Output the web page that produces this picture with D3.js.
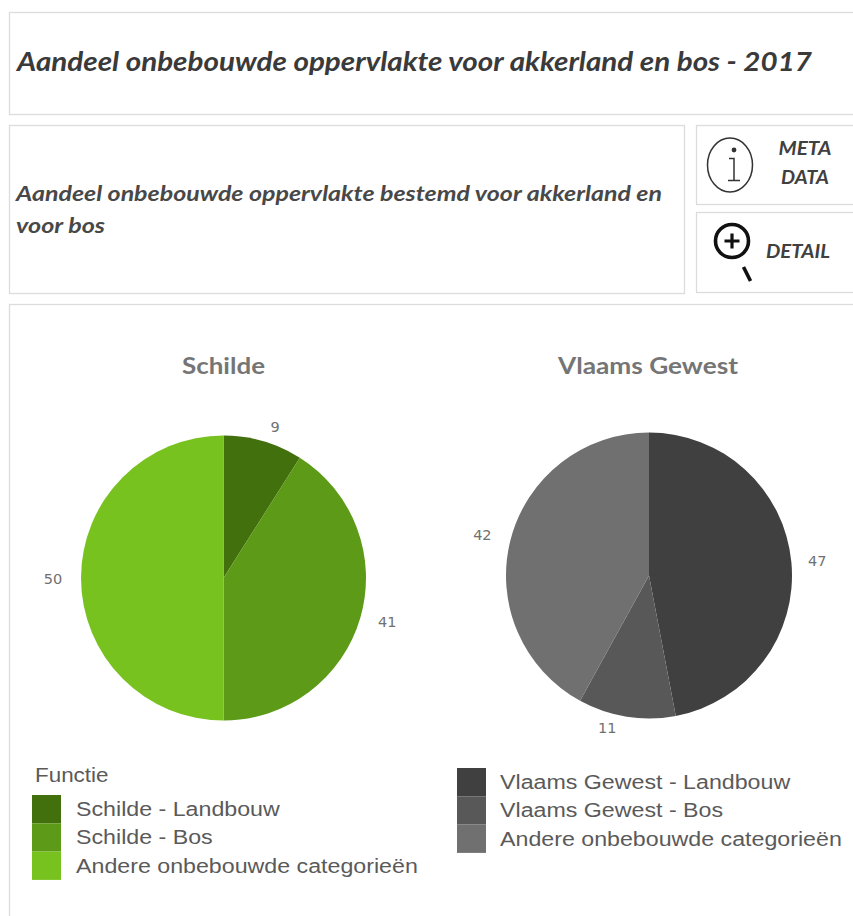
<!DOCTYPE html>
<html><head><meta charset="utf-8">
<script src="https://cdn.jsdelivr.net/npm/d3@7"></script>
<style>html,body{margin:0;padding:0;background:#fff;overflow:hidden}svg{display:block}</style>
</head><body><svg id="c" width="853" height="916"></svg>
<script>
const pageTitle = "Aandeel onbebouwde oppervlakte voor akkerland en bos - 2017";
const subtitleLines = ["Aandeel onbebouwde oppervlakte bestemd voor akkerland en", "voor bos"];
const pieNames = ["Schilde", "Vlaams Gewest"];
const schildeCategories = ["Schilde - Landbouw", "Schilde - Bos", "Andere onbebouwde categorieën"];
const schildeValues = [9, 41, 50];
const schildeColors = ["#41700c", "#5c9a17", "#78c21f"];
const vlaamsCategories = ["Vlaams Gewest - Landbouw", "Vlaams Gewest - Bos", "Andere onbebouwde categorieën"];
const vlaamsValues = [47, 11, 42];
const vlaamsColors = ["#404040", "#585858", "#707070"];
const legendTitle = "Functie";

const svg = d3.select("#c");
const frame = "#dcdcdc";
function box(x,y,w,h){svg.append("rect").attr("x",x+.5).attr("y",y+.5).attr("width",w).attr("height",h).attr("fill","#fff").attr("stroke",frame).attr("stroke-width",1.3);}
box(9,12,860,102); box(9,125,675,168); box(696,125,170,79); box(696,212,170,80); box(9,304,860,640);

const sans = "Lato,'Open Sans',sans-serif";
const arial = "'Liberation Sans',Arial,sans-serif";
const dejavu = "'DejaVu Sans',sans-serif";
function text(x,y,s,size,opt={}){
  const t = svg.append("text").attr("x",x).attr("y",y).text(s).attr("font-size",size)
    .attr("font-family",opt.font||sans).attr("fill",opt.fill||"#404040")
    .attr("font-style",opt.italic?"italic":"normal").attr("font-weight",opt.bold?700:400)
    .attr("text-anchor",opt.anchor||"start");
  if(opt.len) t.attr("textLength",opt.len).attr("lengthAdjust","spacingAndGlyphs");
  if(opt.stretch) t.attr("textLength",t.node().getComputedTextLength()*opt.stretch).attr("lengthAdjust","spacingAndGlyphs");
  return t;
}
text(17,71,pageTitle,26,{italic:true,bold:true,fill:"#3a3a3a",len:795});
text(16,201,subtitleLines[0],20,{italic:true,bold:true,fill:"#484848",len:646});
text(16,233,subtitleLines[1],20,{italic:true,bold:true,fill:"#484848",len:89});

// info icon
svg.append("ellipse").attr("cx",730).attr("cy",165).attr("rx",22.5).attr("ry",27).attr("fill","none").attr("stroke","#333").attr("stroke-width",1.5);
svg.append("circle").attr("cx",734).attr("cy",150).attr("r",2.4).attr("fill","#333");
svg.append("path").attr("d","M729 158.5H734V180M728 180.5H740").attr("fill","none").attr("stroke","#333").attr("stroke-width",1.5);
text(805,155,"META",18,{italic:true,bold:true,anchor:"middle",len:53});
text(805,184,"DATA",18,{italic:true,bold:true,anchor:"middle",len:48});
// magnifier
svg.append("circle").attr("cx",732).attr("cy",241).attr("r",16.5).attr("fill","none").attr("stroke","#111").attr("stroke-width",3.6);
svg.append("path").attr("d","M724.5 241H739.5M732 233.5V248.5").attr("stroke","#111").attr("stroke-width",3.2);
svg.append("path").attr("d","M743.5 267L750.5 281").attr("stroke","#111").attr("stroke-width",3.6);
text(766,258,"DETAIL",18,{italic:true,bold:true,len:64});

function drawPie(cx,cy,r,values,colors,titleX,titleY,titleLen,name,nudges){
  const g = svg.append("g").attr("transform",`translate(${cx},${cy})`);
  const pie = d3.pie().sort(null)(values);
  const arc = d3.arc().innerRadius(0).outerRadius(r);
  g.selectAll("path").data(pie).join("path").attr("d",arc).attr("fill",(d,i)=>colors[i]);
  text(titleX,titleY,name,22,{bold:true,fill:"#757575",anchor:"middle",len:titleLen});
  const lab = d3.arc().innerRadius(r+28).outerRadius(r+28);
  pie.forEach((d,i)=>{
    const [x,y]=lab.centroid(d);
    text(cx+x+nudges[i][0],cy+y+6+nudges[i][1],d.data,14.5,{font:dejavu,fill:"#707070",anchor:"middle"});
  });
}
drawPie(223.5,578,142.5,schildeValues,schildeColors,223.5,374,83,pieNames[0],[[4,12],[0,-5],[0,0]]);
drawPie(649,575.5,143,vlaamsValues,vlaamsColors,648,374,180,pieNames[1],[[-2,1],[-15,-17],[-1,1]]);

function legend(x,y,cats,colors,tx){
  const h = 28.3;
  cats.forEach((c,i)=>{
    svg.append("rect").attr("x",x).attr("y",y+i*h).attr("width",29).attr("height",h).attr("fill",colors[i]);
    text(tx,y+i*h+21,c,20,{font:arial,fill:"#5a5a5a",stretch:1.16});
  });
}
text(35,782,legendTitle,20,{font:arial,fill:"#5a5a5a",stretch:1.12});
legend(32,795,schildeCategories,schildeColors,76);
legend(457,768,vlaamsCategories,vlaamsColors,500);
</script></body></html>
